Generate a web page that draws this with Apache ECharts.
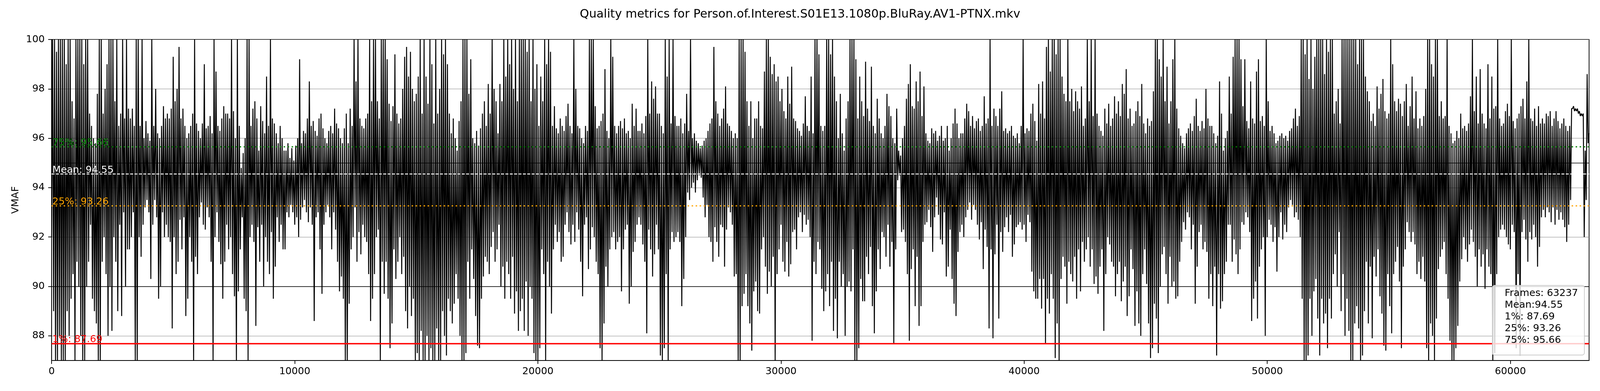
<!DOCTYPE html>
<html><head><meta charset="utf-8">
<script src="https://cdn.jsdelivr.net/npm/echarts@6/dist/echarts.min.js"></script>
<style>html,body{margin:0;padding:0;background:#fff;overflow:hidden;width:100%;height:100%}#c{width:100vw;height:100vh}</style>
</head><body><div id="c"></div>
<script>
// ---- data (per ~80-frame bin: low and high VMAF) ----
const totalFrames = 63237;
const titleText = 'Quality metrics for Person.of.Interest.S01E13.1080p.BluRay.AV1-PTNX.mkv';
const xTicks = [0, 10000, 20000, 30000, 40000, 50000, 60000];
const yTicks = [88, 90, 92, 94, 96, 98, 100];
const boldLines = [90, 95];
const refNames = ['1%', 'Mean', '25%', '75%'];
const refValues = [87.69, 94.55, 93.26, 95.66];
const statLabels = ['Frames: ', 'Mean:', '1%: ', '25%: ', '75%: '];
const statValues = ['63237', '94.55', '87.69', '93.26', '95.66'];

const hiA = [100,100,99.5,100,100,100,100,99,100,100,
97.5,96.8,100,100,100,100,99,100,100,97,
96.5,96,95.8,97.8,100,100,97,98,99,100,
100,100,97.5,100,96.5,97,100,96.8,100,97.2,
96.8,97.2,96.5,100,100,96.5,100,96,96.7,96.2,
95.9,100,96.5,98,96.2,96,96.5,97.3,96.8,97,
96.8,97.2,99.3,97.5,98,99.7,96.8,97.2,96.5,96,
96.2,96.5,97,100,96.6,96.3,96,96.6,99,96.4,
96.5,96.9,96.2,100,98.7,96.5,96.3,96.8,97.3,97,
97,96.8,100,97.1,96,100,96.5,94.8,95.4,96,
100,100,96.5,97.2,97.5,96.8,95.5,97.3,96.7,96.2,
98.5,96.5,100,96.8,96.6,96.2,95.8,96.5,96,95.5,
95.5,95.8,95.2,95.6,95.1,95.7,96,99.2,95.8,96.3,
96.2,96.8,98.3,96.5,96.7,96.3,96.1,96.8,97,96.4,
96,95.8,96.3,96.5,96.2,97.2,96.6,96.4,96,95.8,
96.4,97,95.8,97.2,96.5,100,98.3,100,96.8,96.5,
96.4,96.8,97,100,97.5,100,100,97.5,96.8,100,
100,100,99.2,97.4,96.7,97.3,99.4,97,96.6,96.8,
98,99.3,99.7,98.5,99.5,98,97.5,97.8,98.5,100,
97,100,98.5,97.4,100,99,96.6,100,97,98,100,99.4];
const loA = [92,89,87,87,88,87,87,87,89,88,
89.5,90.5,87,91,90,88,87,87,90,91,
92.5,89.5,89,88.5,87,87,91,92,90.5,88,
90,88.2,92,91,89,92.5,88.8,93,90,91.5,
91.5,92,93,87,87,92,91.2,92.5,93.2,93.5,
93,90.3,92.5,93.5,92.8,89.5,90,93,92,92.5,
92,91.8,88.3,92,90.5,91,92.7,91.5,92.8,88.8,
89.5,92,91,87,91.2,90.5,92.8,93.4,92.5,92.3,
93.2,92.8,91,87,92,93,91.8,90.9,89.5,91,
92.5,91.5,92,90.5,89.6,87,89.8,91.5,92.8,89.5,
89,87,92,92.5,91.8,88.4,92.4,91,92.5,90,
92,91,90.5,92.2,89.5,90.8,92.8,91.8,92.5,91.5,
91.5,93,92.8,93.3,93,92.5,92.8,92,92.7,93.2,
93.5,93,92.6,93.2,92.5,88.6,92.8,93,91.5,89.7,
92.5,93,93.3,92.8,91.5,93,92.3,91,89.8,90.4,
89.5,87,87,89.3,91.5,92,93.2,91,92.2,91.3,
92.5,92,91.8,90.5,88.6,89.5,90.5,92,92.3,87,
91,89.7,91,89.5,87.5,88.5,91.5,90.3,91,92,
90.5,91.2,89,88.3,90,88.8,89.5,87,87.3,87,
88.2,87,87,88,87,87.5,87,87,88.3,87,87,89];

const hiB = [100,99,97,96.2,96.8,96,95.5,96.7,97.5,100,
100,100,97.8,99.2,96,95.8,96.3,95.7,96.4,97,
97.5,96.5,98.2,97,100,98,97.5,96.2,98.2,97.5,
100,98.5,100,99,100,98,100,97.5,100,100,
100,100,99.5,100,97.5,100,98,99,96.5,98.5,
97.5,100,99,100,99.5,96.5,97.3,96.4,96.2,96.8,
96.5,96.3,96.9,97.4,96.5,96.2,100,98,96.5,96.4,
96,95.8,96.5,96.3,100,100,100,97.3,96.4,96.5,
96.7,97,98.8,96.3,96,100,99.3,96.5,96.2,96.5,
96.7,96.4,96.8,96.2,96.3,96,97.4,96.5,97.2,96.3,
96.3,96.6,96.2,96.9,100,97,98.3,97.6,98.1,97,
97,96.5,96.2,100,98.5,100,96.6,100,96.9,96.5,
96.5,96.8,96.2,96.6,97.8,96.3,100,96,96.2,95.9,
95.8,95.6,95.7,95.9,96,96.3,96.6,96.8,99.7,97.5,
97,96.5,96.8,97.2,98.1,96.6,96.5,96.3,96,96.2,
96,100,100,100,99.5,97.5,96.5,97.5,96,96.8,
96.8,97.5,96.5,96.4,98.7,100,100,99.3,98.6,99,
98.3,98.5,97.5,98,97.1,96.8,98.5,97.4,98.9,96.8,
96.7,96.4,96.3,96.1,96.6,97.7,96.5,96.3,98.5,96.2,
100,100,99.4,96.5,96.3,96.5];
const loB = [88,87.2,89.5,89,88.5,89.3,90.5,89.5,88,87,
87,87.3,91,89.5,91.5,90.3,88.8,87.6,87.5,89.5,
90.4,91.2,91,90.5,91.6,92.2,91,91.5,92.5,90,
90.8,89.5,91,90.5,89.5,91.2,88.9,89.8,88.2,89,
89.5,88.2,90.2,88,90,89.5,87.3,87,87,87.5,
91.5,90.5,87,91,90,88.9,91.5,92.5,91.8,92.2,
91,91.2,92.5,93,92.2,91.7,92.5,91.8,93,92.3,
91,89.6,92.5,92.8,90.7,91.5,92.4,92,91,90.5,
87.5,87,88.5,90.8,90,91.5,92,92.2,91.5,91.8,
92,89.8,91.5,92.3,92.5,89.3,90,91.4,91.8,92.5,
92.8,92.5,91.7,91,88.1,92.3,91.5,90.4,91.3,92.5,
91.5,87.2,87,87.5,90.5,87,91.5,92.2,91.8,92,
92.2,91.8,89.2,90.3,92,93.8,93.5,94,94.2,93.8,
94.3,94.5,94.4,93.6,92.8,93.3,92,91.8,91,92.4,
91.8,91.2,92.5,92.4,90.8,92.3,93.2,93,92.5,90.4,
90.5,87,87,89.2,89.7,90.5,89.2,88.5,87.4,89.8,
90.2,89,88.9,91.5,92,90.8,89.7,90.6,90,91.2,
87,90.5,91.5,92.5,91,90.6,91.8,90.4,90.9,92.2,
92.3,91.5,92.8,93,92.2,92.9,92.5,92.7,92,87.8,
91,90.5,91.8,91.5,89.9,89];

const hiC = [100,100,99.4,100,98.5,97.5,96,97.8,96.2,95.5,
96.8,97.5,100,100,100,99.2,96.8,98.5,97.5,96.9,
99.1,97.2,96.7,98.9,96.5,96.2,97.6,96.8,96.2,96,
96.5,97.8,97.3,96.9,96,95.8,97.2,95.5,95.3,96,
96.5,97.6,98.2,99,97.3,97.2,98.3,97.5,98.7,96.9,
98.1,96.2,95.9,95.8,96.4,96.2,96.3,95.9,96.1,96.5,
95.9,96,96.5,95.5,96,96.6,97.2,96.6,96,96.2,
96.2,96.8,97.4,97.1,96.5,96.9,96.4,96.7,96.8,96.3,
96.5,97.7,96.6,96.8,100,96.5,97.2,96.9,96.5,97.2,
97.9,96.3,96.4,96.2,96.3,96.5,96.1,96,96.2,95.8,
96.5,100,96.2,96.4,96.3,97,97.4,96.7,95.9,98.2,
97,98.3,96.8,99.7,100,98.7,100,100,99.4,100,
100,98.5,97.8,97.5,100,97.5,98,97.1,97.9,97.5,
97.2,98.1,96.5,96.8,100,97.5,100,96.9,100,97,
96.5,96.3,96.1,97.2,96.6,97.4,96.5,96.8,97.7,97,
97.5,96.9,98.2,97.8,98.8,96.8,97.2,96.5,96.6,97.1,
97.5,96.9,98.2,96.6,96.2,96.8,96.5,96.7,97.9,100,
100,99.2,98.5,100,97.5,98.9,96.6,97.5,99.2,100,
97.2,96.4,96.1,95.8,95.6,96.2,96.4,96.6,96.3,96.9,
97.6,96.5,96.3,96.7,96.4,98,96.8,96.5];
const loC = [89.8,90.5,89.2,91,88.2,89.5,87.9,91,90,90.5,
88,90,90.2,89.8,91.5,87,87,87.5,90.3,89.4,
89.4,91.2,90.5,91.6,89.2,88.1,89.8,91.5,90.7,92.2,
92,91.2,92.5,90.8,91.8,87.7,91.5,94.3,94.5,92.2,
92.3,91.8,90.5,87.8,90.7,91.5,89.2,91.2,88.4,89.2,
91.8,92.5,92.6,93.1,92.4,91.4,92.8,93.6,92.9,91.9,
91.7,93,90.4,90.8,92.3,90.3,89.3,88.8,91.4,92.2,
92.5,92,92.8,93.1,93.4,92.7,93.3,93.1,92.5,91.9,
92.6,90.7,92.3,91.6,88.3,91.5,87.9,91.3,92.5,88.7,
92.2,91.4,92.4,92.8,92.2,92.9,91.2,91.7,92.4,92.5,
92.6,92.3,92.5,91.8,92.9,92.6,90.6,89.8,89.5,89.5,
90.3,89.1,90.3,87.7,89.5,88.9,90.5,89.5,87.1,88.5,
87,90.3,91.2,90.8,89.3,91,90.5,90.2,91.2,89.5,
91.5,89.8,91.8,91,91.5,92,90.8,91.5,90.1,90.4,
89.7,90.8,91.5,88.2,90.5,92,91.7,91,90.8,89.6,
90.5,91,89.4,90.2,90.8,88.8,89.6,91.5,90.7,88.4,
89.8,88.5,88,90.5,91.5,90.1,88.5,87.1,87.5,89.3,
88.7,87.3,90,91.3,91.6,90.5,89.3,91.2,90,90.2,
89.5,89.6,91,91.8,92.6,92.3,93,92.8,91.5,92.5,
89.3,90.8,92.2,92.5,91.5,91.8,91.4,89.5];

const hiD = [96.5,96.2,95.8,96.1,98.3,97,95.5,96,96.3,98.5,
97,99.3,100,100,100,99.2,97.3,99.2,96.7,96.4,
98.3,96.8,96.6,98.7,99.2,96.7,96.9,96.5,100,97.5,
96.3,96.5,96.2,95.8,95.9,96.1,96.2,96,96.1,95.9,
96.3,96.4,96.8,97.2,96.5,96.9,100,100,99.4,100,
98.4,100,98,99.3,100,100,100,100,98.6,100,
99.5,100,100,97,97.5,98,96.6,100,100,100,
100,100,100,100,100,99,100,100,100,98.5,
97.9,97.5,96.7,97,96.5,98.1,97.2,97.8,98.4,97.1,
96.8,97,100,99,97.5,97.1,97.6,97.4,96.9,97.5,
98.2,96.5,97.3,98.5,96.8,97.9,96.4,96.8,96.5,96.9,
98,100,100,99,98.5,100,100,96.9,97.5,96.8,
96.9,100,96.5,96.2,95.8,95.9,96.3,96,97,96.4,
96.5,96.3,96.6,97.7,100,97.1,98.5,96.6,98.8,97,
96.6,96.4,99,96.8,98.5,97.2,97.3,100,96.8,96.5,
96.6,97.1,97.4,96.9,100,96.7,96.4,96.8,97,97.3,
97.6,96.8,98.3,100,96.8,96.7,97.2,96.5,97.3,96.6,
96.8,96.6,97,96.9,97.1,96.5,96.8,97.1,96.7,96.4,
96.6,96.8,96.5,96.3,96.5,97.2,
97.3,97.2,97.2,97.1,97.0,97.0,
95.5,98.6,96.2];
const loD = [90.5,89.2,90.8,87.2,90.5,89.1,89.4,90.5,91,92.5,
92.5,91,91.9,91.3,90.5,91.5,92.6,92.5,93,92.8,
92.2,88.6,89.5,90.2,88.7,90.8,91.5,92,88,92,
92.7,92.5,91.8,92.4,90.6,92,93,91.9,92.5,92.2,
93.2,93.5,93.3,92.8,93,92.7,92,89.5,87,87,
87.2,89.5,88,89.8,90.3,88.7,87.2,89.5,88.5,88.9,
87.5,89.5,88.7,90.5,91.3,90,92.2,89,90.5,88,
89.5,88.2,87,87,88.5,89.2,88.3,87,87.2,89,
91,88.5,90.8,87.9,91.2,90.4,91.5,89.6,88.9,87.6,
87.4,90.5,89.2,88.1,90.5,91,91.6,90.2,87.5,90.8,
91.5,92.6,92.2,91.8,92.2,91.7,90.5,91,90.3,91.2,
90.2,87.5,87,88.5,88,87,88.7,90.7,91.2,91.5,
91.8,90.5,89.5,87.8,87,87,87.5,88.4,90.2,91.1,
92,91.5,91,91.7,92.3,91.8,91.2,90,91.5,90.8,
91.3,89.9,91.5,90.8,90.5,87,87.3,90.5,92,92.3,
92.5,92.3,92,91.7,91.5,92.5,92.2,87.5,90.5,87.2,
92.2,92.7,91.9,91,92.2,91.9,92.5,92,90.8,91.6,
92.8,93.1,92.8,93.2,93,92.6,93.2,92.5,93.1,92.7,
93,92.7,92.4,91.8,92.5,93.5,
97.2,97.1,97.1,97.0,96.9,96.9,
92,93.5,95.8];

// ---- build series from the arrays ----
const hi = hiA.concat(hiB, hiC, hiD);
const lo = loA.concat(loB, loC, loD);
const n = Math.min(hi.length, lo.length);
const step = totalFrames / (n - 0.5);
const vmaf = [];
for (let i = 0; i < n; i++) {
  vmaf.push([i * step, lo[i]]);
  vmaf.push([i * step + step / 2, hi[i]]);
}

const W = window.innerWidth || 4400, H = window.innerHeight || 1000;
const SX = W / 4400, SY = H / 1000, S = SX;
const FONT = 'DejaVu Sans';
const refColors = ['#ff0000', '#ffffff', '#ffa500', '#008000'];
const refStyles = [
  {type: 'solid', width: 4 * S},
  {type: [8 * S, 4 * S], width: 2.5 * S},
  {type: [4 * S, 7 * S], width: 3 * S},
  {type: [4 * S, 7 * S], width: 3 * S}
];

const chart = echarts.init(document.getElementById('c'), null, {renderer: 'canvas', width: W, height: H});
chart.setOption({
  animation: false,
  backgroundColor: '#ffffff',
  title: {
    text: titleText, left: 'center', top: 17 * SY,
    textStyle: {fontFamily: FONT, fontSize: 32.4 * S, fontWeight: 'normal', color: '#000'}
  },
  grid: {left: 142 * SX, right: 30 * SX, top: 101 * SY, bottom: 78 * SY, show: true, borderColor: '#000', borderWidth: 2 * S, backgroundColor: 'transparent'},
  xAxis: {
    type: 'value', min: 0, max: totalFrames, interval: 10000,
    axisLine: {show: true, lineStyle: {color: '#000', width: 2 * S}},
    axisTick: {show: true, length: 9.5 * S, customValues: xTicks, lineStyle: {color: '#000', width: 2 * S}},
    axisLabel: {customValues: xTicks, formatter: v => String(v), fontFamily: FONT, fontSize: 27 * S, color: '#000', margin: 17 * S},
    splitLine: {show: false}
  },
  yAxis: [{
    type: 'value', min: 87, max: 100, interval: 1,
    axisLine: {show: true, lineStyle: {color: '#000', width: 2 * S}},
    axisTick: {show: true, length: 9.5 * S, customValues: yTicks, lineStyle: {color: '#000', width: 2 * S}},
    axisLabel: {customValues: yTicks, formatter: v => String(v), fontFamily: FONT, fontSize: 27 * S, color: '#000', margin: 19 * S},
    splitLine: {show: true, lineStyle: {color: '#888888', width: 1.3 * S}},
    name: 'VMAF', nameLocation: 'middle', nameGap: 85 * S,
    nameTextStyle: {fontFamily: FONT, fontSize: 27 * S, color: '#000'}
  }],
  series: [
    {
      type: 'line', name: 'bold', data: [], z: 1, silent: true,
      markLine: {
        silent: true, symbol: ['none', 'none'], animation: false,
        label: {show: false},
        lineStyle: {color: '#000', width: 1.8 * S, type: 'solid'},
        data: boldLines.map(v => ({yAxis: v}))
      }
    },
    {
      type: 'line', name: 'VMAF', data: vmaf, z: 3,
      showSymbol: false, symbol: 'none', sampling: null, silent: true,
      lineStyle: {color: '#000', width: 2.7 * S}
    },
    {
      type: 'line', name: 'refs', data: [], z: 5, silent: true,
      markLine: {
        silent: true, symbol: ['none', 'none'], animation: false,
        data: refValues.map((v, i) => ({
          yAxis: v,
          lineStyle: Object.assign({color: refColors[i]}, refStyles[i]),
          label: {
            show: true, position: 'insideStartTop', distance: [2 * S, -3 * S],
            formatter: refNames[i] + ': ' + v.toFixed(2),
            color: refColors[i], fontFamily: FONT, fontSize: 27 * S
          }
        }))
      }
    }
  ],
  graphic: [
    {type: 'rect', z: 100, shape: {x: 4104 * SX, y: 730 * SY, width: 253 * SX, height: 178 * SY, r: 6 * S},
     style: {fill: 'rgba(255,255,255,0.8)', stroke: '#cccccc', lineWidth: 2 * S}},
    {type: 'text', z: 101, x: 4138 * SX, y: 736 * SY,
     style: {text: statLabels.map((l, i) => l + statValues[i]).join('\n'),
             font: (27 * S) + 'px "DejaVu Sans"', fill: '#000', lineHeight: 32 * S}}
  ]
});
</script></body></html>
